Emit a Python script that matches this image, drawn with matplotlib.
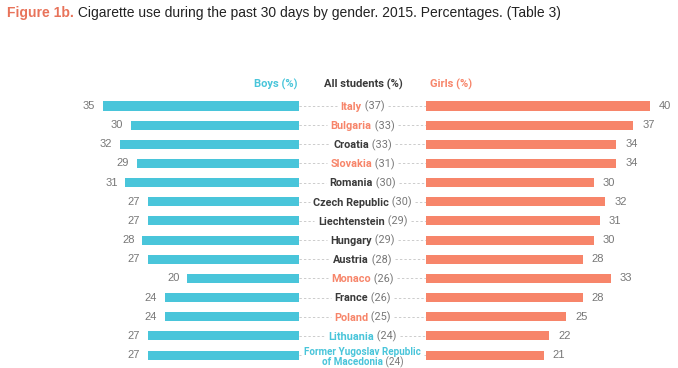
import matplotlib
matplotlib.use("Agg")
import matplotlib.pyplot as plt
from matplotlib.transforms import offset_copy

countries = ["Italy", "Bulgaria", "Croatia", "Slovakia", "Romania", "Czech Republic",
             "Liechtenstein", "Hungary", "Austria", "Monaco", "France", "Poland",
             "Lithuania", "Former Yugoslav Republic\nof Macedonia"]
all_students = [37, 33, 33, 31, 30, 30, 29, 29, 28, 26, 26, 25, 24, 24]
boys = [35, 30, 32, 29, 31, 27, 27, 28, 27, 20, 24, 24, 27, 27]
girls = [40, 37, 34, 34, 30, 32, 31, 30, 28, 33, 28, 25, 22, 21]
# colour of the country name: g = girls colour, b = boys colour, n = dark
highlight = ["g", "g", "n", "g", "n", "n", "n", "n", "n", "g", "n", "g", "b", "b"]

BLUE = "#49C5DA"
ORANGE = "#F7856A"
DARK = "#3a3a3a"
GREY = "#777777"
DASH = "#cccccc"
name_col = {"g": ORANGE, "b": BLUE, "n": DARK}

W, H = 678, 368
fig = plt.figure(figsize=(W / 100, H / 100), dpi=100)

px_per_unit = 5.6
row0, step = 106, 19.154
top_px, bot_px = 87, 368
ylim = ((bot_px - row0) / step, (top_px - row0) / step)
mid_x0, mid_x1 = 299, 426


def add_axes(x0, x1):
    return fig.add_axes([x0 / W, 1 - bot_px / H, (x1 - x0) / W, (bot_px - top_px) / H])


axL = add_axes(60, mid_x0)
axR = add_axes(mid_x1, 670)
axM = add_axes(mid_x0, mid_x1)
axL.set_xlim((mid_x0 - 60) / px_per_unit, 0)
axR.set_xlim(0, (670 - mid_x1) / px_per_unit)
axM.set_xlim(0, 1)
for ax in (axL, axR, axM):
    ax.set_ylim(*ylim)
    ax.axis("off")

ypos = list(range(len(countries)))
axL.barh(ypos, boys, height=0.47, color=BLUE)
axR.barh(ypos, girls, height=0.47, color=ORANGE)

for y, b, g in zip(ypos, boys, girls):
    axL.annotate(str(b), (b, y), xytext=(-5.5, 0), textcoords="offset points",
                 ha="right", va="center", fontsize=8, color=GREY, family="Liberation Sans")
    axR.annotate(str(g), (g, y), xytext=(6.5, 0), textcoords="offset points",
                 ha="left", va="center", fontsize=8, color=GREY, family="Liberation Sans")

fig.canvas.draw()
renderer = fig.canvas.get_renderer()
mid_w = mid_x1 - mid_x0
base = 0.2  # baseline offset below row centre, in row units

for y, name, val, h in zip(ypos, countries, all_students, highlight):
    lines = name.split("\n")
    if len(lines) == 1:
        parts = [(y + base, lines[0], True)]
        fs = 7.8
    else:
        parts = [(y + 0.02, lines[0], False), (y + 0.54, lines[1], True)]
        fs = 7.1
    widest = 0
    for yy, txt, with_val in parts:
        t1 = axM.text(0.5, yy, txt, ha="left", va="baseline", fontsize=fs,
                      fontweight="bold", color=name_col[h], family="Roboto")
        w1 = t1.get_window_extent(renderer).width
        w2 = 0
        t2 = None
        if with_val:
            t2 = axM.text(0.5, yy, " (%d)" % val, ha="left", va="baseline", fontsize=fs,
                          color=GREY, family="Roboto")
            w2 = t2.get_window_extent(renderer).width
        shift = -(w1 + w2) / 2
        t1.set_transform(offset_copy(axM.transData, fig=fig, x=shift, y=0, units="dots"))
        if t2 is not None:
            t2.set_transform(offset_copy(axM.transData, fig=fig, x=shift + w1, y=0, units="dots"))
        widest = max(widest, w1 + w2)
    half = (widest / 2 + 3.5) / mid_w
    for xa, xb in ((0.0, 0.5 - half), (0.5 + half, 1.0)):
        if xb > xa:
            axM.plot([xa, xb], [y, y], color=DASH, lw=0.7, dashes=(2.4, 2.2),
                     solid_capstyle="butt", zorder=1)

# column headers
hy = 1 - 84 / H
fig.text(276 / W, hy, "Boys (%)", ha="center", va="center", fontsize=8,
         fontweight="bold", color=BLUE, family="Roboto")
fig.text(363 / W, hy, "All students (%)", ha="center", va="center", fontsize=8,
         fontweight="bold", color=DARK, family="Roboto")
fig.text(451 / W, hy, "Girls (%)", ha="center", va="center", fontsize=8,
         fontweight="bold", color=ORANGE, family="Roboto")

# title
t = fig.text(7 / W, 1 - 13 / H, "Figure 1b.", ha="left", va="center", fontsize=10,
             fontweight="bold", color="#E8735A", family="Liberation Sans")
fig.canvas.draw()
tw = t.get_window_extent(fig.canvas.get_renderer()).width
fig.text((7 + tw) / W, 1 - 13 / H,
         " Cigarette use during the past 30 days by gender. 2015. Percentages. (Table 3)",
         ha="left", va="center", fontsize=10, color="#222222", family="Liberation Sans")

fig.savefig("out.png", dpi=100)
